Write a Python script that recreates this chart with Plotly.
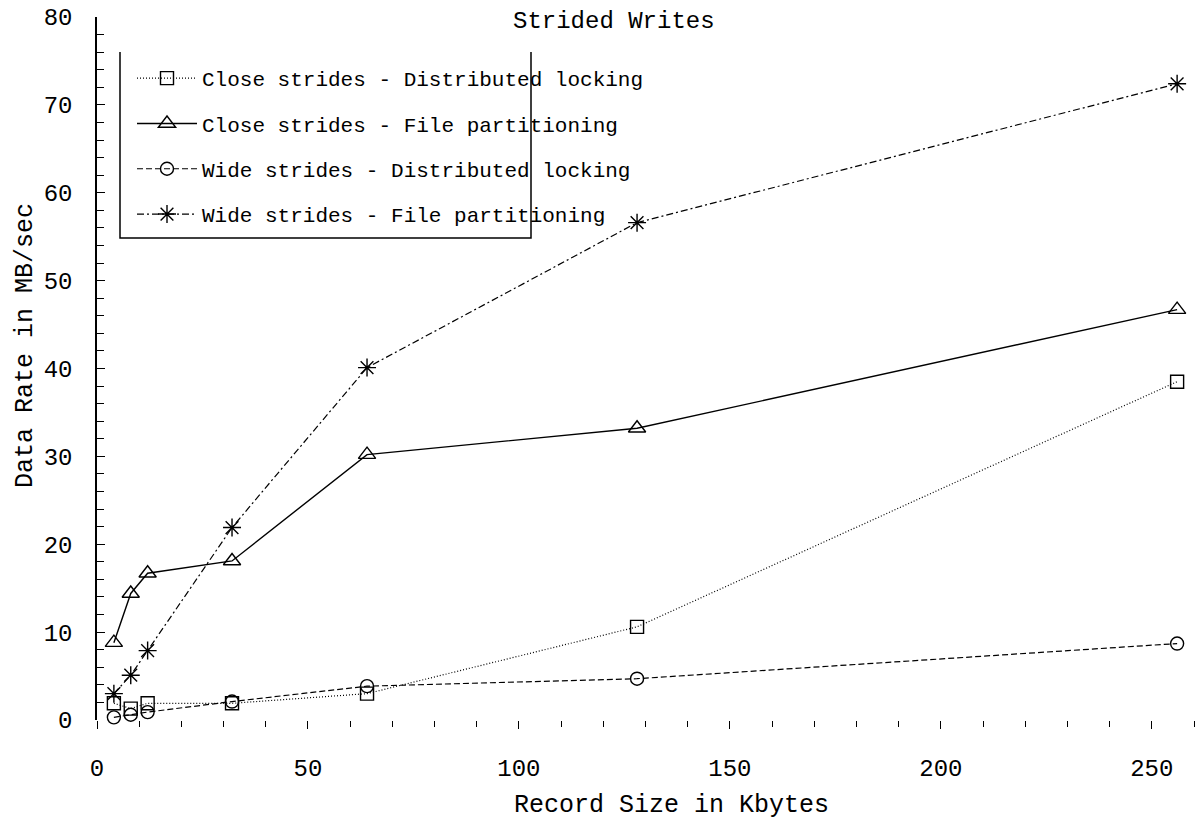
import plotly.graph_objects as go

record_kb = [4, 8, 12, 32, 64, 128, 256]
close_dl = [1.9, 1.3, 1.9, 1.9, 3.0, 10.6, 38.5]
close_fp = [8.8, 14.4, 16.7, 18.1, 30.2, 33.2, 46.7]
wide_dl = [0.3, 0.6, 0.9, 2.1, 3.85, 4.7, 8.7]
wide_fp = [3.0, 5.1, 7.9, 21.9, 40.1, 56.6, 72.4]

series_names = [
    "Close strides - Distributed locking",
    "Close strides - File partitioning",
    "Wide strides - Distributed locking",
    "Wide strides - File partitioning",
]
x_ticks = [0, 50, 100, 150, 200, 250]
y_ticks = [0, 10, 20, 30, 40, 50, 60, 70, 80]

FONT = "Liberation Mono, DejaVu Sans Mono, monospace"

styles = [
    dict(dash="1px,2px", width=1.2, symbol="square-open", size=13),
    dict(dash="solid", width=1.4, symbol="triangle-up-open", size=15),
    dict(dash="6px,3px", width=1.2, symbol="circle-open", size=13),
    dict(dash="7px,3px,2px,3px", width=1.2, symbol="asterisk-open", size=15),
]

fig = go.Figure()
for name, vals, st in zip(series_names, [close_dl, close_fp, wide_dl, wide_fp], styles):
    fig.add_trace(go.Scatter(
        x=record_kb, y=vals, name=name, mode="lines+markers",
        legendgroup=name,
        line=dict(color="black", width=st["width"], dash=st["dash"]),
        marker=dict(symbol=st["symbol"], size=st["size"], color="black",
                    line=dict(color="black", width=1.4)),
        cliponaxis=False,
    ))

W, H = 1196, 822
L, R, T, B = 97, 2, 17, 102
pw, ph = W - L - R, H - T - B

def px(xp):
    return (xp - L) / pw

def py(yp):
    return (H - B - yp) / ph

fig.update_layout(
    width=W, height=H, autosize=False,
    margin=dict(l=L, r=R, t=T, b=B),
    paper_bgcolor="white", plot_bgcolor="white",
    font=dict(family=FONT, color="black", size=22),
    showlegend=True,
    legend=dict(
        x=px(132), y=py(58), xanchor="left", yanchor="top",
        bgcolor="rgba(0,0,0,0)", borderwidth=0,
        font=dict(family=FONT, size=21, color="black"),
        itemwidth=60, tracegroupgap=15, traceorder="grouped",
    ),
    xaxis=dict(
        range=[0, 260], showgrid=False, zeroline=False, showline=False,
        tickmode="array", tickvals=x_ticks, ticktext=[str(v) for v in x_ticks],
        ticks="outside", ticklen=8, tickwidth=1.2, tickcolor="black",
        ticklabelstandoff=18,
        tickfont=dict(family=FONT, size=24),
        minor=dict(dtick=10, ticks="outside", ticklen=6, tickwidth=1.2, tickcolor="black"),
    ),
    yaxis=dict(
        range=[0, 80], showgrid=False, zeroline=False,
        showline=True, linecolor="black", linewidth=1.5,
        tickmode="array", tickvals=y_ticks, ticktext=[str(v) for v in y_ticks],
        ticks="inside", ticklen=8, tickwidth=1.2, tickcolor="black",
        ticklabelstandoff=18,
        tickfont=dict(family=FONT, size=24),
        minor=dict(dtick=2, ticks="inside", ticklen=7, tickwidth=1.2, tickcolor="black"),
    ),
    annotations=[
        dict(text="Strided Writes", xref="paper", yref="paper",
             x=px(614), y=py(22), xanchor="center", yanchor="middle",
             showarrow=False, font=dict(family=FONT, size=24)),
        dict(text="Record Size in Kbytes", xref="paper", yref="paper",
             x=px(671), y=py(805), xanchor="center", yanchor="middle",
             showarrow=False, font=dict(family=FONT, size=25)),
        dict(text="Data Rate in MB/sec", xref="paper", yref="paper",
             x=px(25), y=py(346), xanchor="center", yanchor="middle",
             textangle=-90, showarrow=False, font=dict(family=FONT, size=25)),
    ],
    shapes=[
        dict(type="path", xref="paper", yref="paper",
             path=f"M {px(120)},{py(52)} L {px(120)},{py(238)} L {px(531)},{py(238)} L {px(531)},{py(52)}",
             line=dict(color="black", width=1.5)),
    ],
)

fig.write_html("out.html")
